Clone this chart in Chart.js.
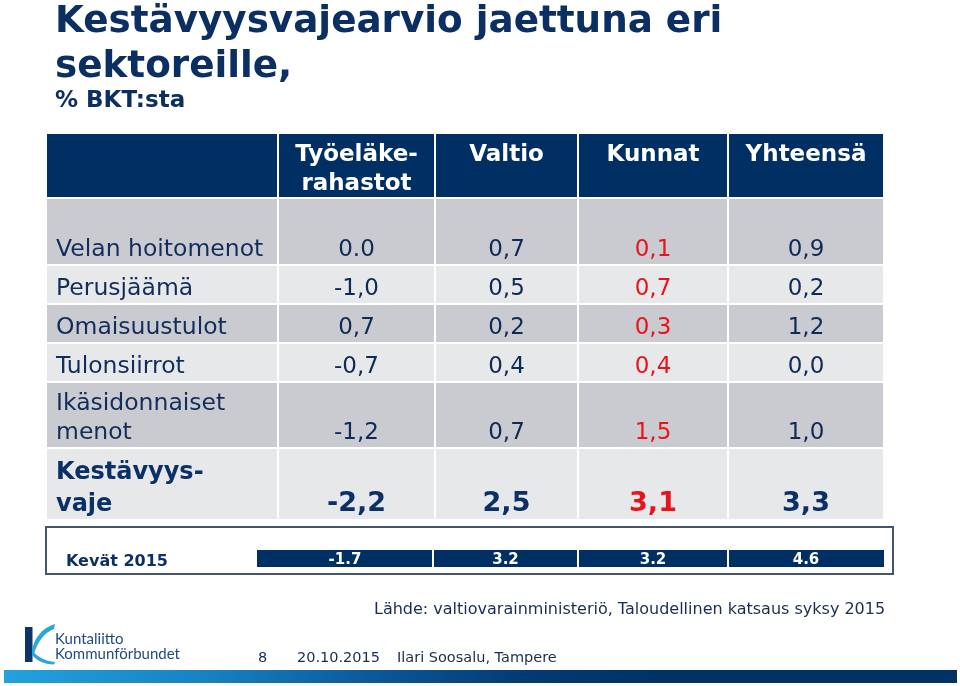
<!DOCTYPE html>
<html lang="fi">
<head>
<meta charset="utf-8">
<title>Kestävyysvajearvio jaettuna eri sektoreille</title>
<script src="https://cdn.jsdelivr.net/npm/chart.js@4.4.1/dist/chart.umd.min.js"></script>
<style>
  html, body { margin: 0; padding: 0; background: #ffffff; }
  body { width: 960px; height: 686px; position: relative; overflow: hidden; font-family: "DejaVu Sans", Verdana, sans-serif; }
  #chartBox { position: absolute; left: 0; top: 0; width: 960px; height: 686px; }
  .txt { position: absolute; white-space: nowrap; margin: 0; z-index: 2; }
  #title { left: 55px; top: -3px; font-size: 37.3px; line-height: 45px; font-weight: bold; color: #0b2f63; }
  #subtitle { left: 55px; top: 86px; font-size: 23px; line-height: 27px; font-weight: bold; color: #0b2f63; }
  #source { left: 374px; top: 599px; font-size: 16px; line-height: 20px; color: #1a2d4f; }
  .foot { top: 648px; font-size: 14.5px; line-height: 18px; color: #1a2d4f; }
  .logoTxt { left: 55px; font-family: Lato, "Open Sans", sans-serif; font-size: 15px; line-height: 16px; color: #1f4a82; }
  #logo { position: absolute; left: 20px; top: 620px; z-index: 2; }
  #bottomBar { position: absolute; left: 4px; top: 670px; width: 953px; height: 13px; z-index: 2;
    background: linear-gradient(to right, #23a2dc 0%, #1780c0 22%, #0b5595 40%, #033a70 55%, #003264 70%, #003264 100%); }
</style>
</head>
<body>
<div id="chartBox"><canvas id="chart"></canvas></div>

<div class="txt" id="title">Kestävyysvajearvio jaettuna eri<br>sektoreille,</div>
<div class="txt" id="subtitle">% BKT:sta</div>
<div class="txt" id="source">Lähde: valtiovarainministeriö, Taloudellinen katsaus syksy 2015</div>

<svg id="logo" width="40" height="46" viewBox="0 0 40 46">
  <rect x="5" y="7" width="7.5" height="35" fill="#0d3468"/>
  <path d="M12,31 C14,18 22,8 35,4 L34,9 C24,13 18,21 14,34 Z" fill="#2aa6dc"/>
  <path d="M12,30 C17,37 25,41 35,42 L34,44.5 C24,44.5 16,40 12,35 Z" fill="#2aa6dc"/>
</svg>
<div class="txt logoTxt" style="top:630px;">Kuntaliitto</div>
<div class="txt logoTxt" style="top:645px;">Kommunförbundet</div>

<div class="txt foot" style="left:258px;">8</div>
<div class="txt foot" style="left:297px;">20.10.2015</div>
<div class="txt foot" style="left:397px;">Ilari Soosalu, Tampere</div>
<div id="bottomBar"></div>

<script>
// ---------------- DATA ----------------
const columns = ['Työeläke-\nrahastot', 'Valtio', 'Kunnat', 'Yhteensä'];
const rowLabels = ['Velan hoitomenot', 'Perusjäämä', 'Omaisuustulot', 'Tulonsiirrot', 'Ikäsidonnaiset\nmenot', 'Kestävyys-\nvaje'];
const tyoelakerahastot = [0.0, -1.0, 0.7, -0.7, -1.2, -2.2];
const valtio           = [0.7,  0.5, 0.2,  0.4,  0.7,  2.5];
const kunnat           = [0.1,  0.7, 0.3,  0.4,  1.5,  3.1];
const yhteensa         = [0.9,  0.2, 1.2,  0.0,  1.0,  3.3];
const kevatLabel = 'Kevät 2015';
const kevat2015  = [-1.7, 3.2, 3.2, 4.6];

// ---------------- LAYOUT (table units) ----------------
const L = {
  colEdges: [0, 232, 389, 532, 682, 838],
  rowEdges: [0, 65, 132, 171, 210, 249, 315, 387],
  baselineOffset: 9,
  kevBox: [0, 847, 394, 441],
  kevBarEdges: [211, 387, 532, 682, 838],
  kevBar: [417, 434],
  kevBaseline: 431,
  labelInset: 10,
  headerFirstBaseline: 28,
  headerLineH: 29,
  lineH: 29,
  boldLineH: 32,
  boldRow: 5,
  redColumn: 2
};
const S = {
  font: '"DejaVu Sans", Verdana, sans-serif',
  header: '#003063',
  rowDark: '#cacbd0',
  rowLight: '#e7e8ea',
  label: '#132d5b',
  value: '#0e2a57',
  bold: '#0b3067',
  red: '#e8141c',
  kevBorder: '#46556b',
  white: '#ffffff'
};

const series = [tyoelakerahastot, valtio, kunnat, yhteensa];
// the slide prints the first cell with a point ("0.0"), all other table cells with a comma
function fmtTable(v, r, c) {
  const s = v.toFixed(1);
  return (r === 0 && c === 0) ? s : s.replace('.', ',');
}

const datasets = series.map((vals, c) => ({
  label: columns[c].replace('\n', ''),
  data: vals.map((v, r) => ({
    x: (L.colEdges[c + 1] + L.colEdges[c + 2]) / 2,
    y: L.rowEdges[r + 2] - L.baselineOffset,
    v: v
  })),
  pointRadius: 0,
  pointHoverRadius: 0,
  showLine: false
}));
datasets.push({
  label: kevatLabel,
  data: kevat2015.map((v, c) => ({
    x: (L.kevBarEdges[c] + L.kevBarEdges[c + 1]) / 2,
    y: L.kevBaseline,
    v: v
  })),
  pointRadius: 0,
  pointHoverRadius: 0,
  showLine: false
});

const tablePlugin = {
  id: 'tablePlugin',
  beforeDatasetsDraw(chart) {
    const { ctx, scales: { x, y } } = chart;
    const px = v => x.getPixelForValue(v);
    const py = v => y.getPixelForValue(v);
    ctx.save();
    const nRows = L.rowEdges.length - 1;
    const nCols = L.colEdges.length - 1;
    for (let r = 0; r < nRows; r++) {
      for (let c = 0; c < nCols; c++) {
        if (r === 0) {
          ctx.fillStyle = S.header;
        } else {
          ctx.fillStyle = (r % 2 === 1) ? S.rowDark : S.rowLight;
        }
        const x0 = px(L.colEdges[c]) + 1, x1 = px(L.colEdges[c + 1]) - 1;
        const y0 = py(L.rowEdges[r]) + 1, y1 = py(L.rowEdges[r + 1]) - 1;
        ctx.fillRect(x0, y0, x1 - x0, y1 - y0);
      }
    }
    // Kevät box
    ctx.strokeStyle = S.kevBorder;
    ctx.lineWidth = 2;
    ctx.strokeRect(px(L.kevBox[0]), py(L.kevBox[2]), px(L.kevBox[1]) - px(L.kevBox[0]), py(L.kevBox[3]) - py(L.kevBox[2]));
    ctx.fillStyle = S.header;
    for (let c = 0; c < L.kevBarEdges.length - 1; c++) {
      const x0 = px(L.kevBarEdges[c]) + (c === 0 ? 0 : 1);
      const x1 = px(L.kevBarEdges[c + 1]) - (c === L.kevBarEdges.length - 2 ? 0 : 1);
      ctx.fillRect(x0, py(L.kevBar[0]), x1 - x0, py(L.kevBar[1]) - py(L.kevBar[0]));
    }
    ctx.restore();
  },
  afterDatasetsDraw(chart) {
    const { ctx, scales: { x, y } } = chart;
    const px = v => x.getPixelForValue(v);
    const py = v => y.getPixelForValue(v);
    ctx.save();
    ctx.textBaseline = 'alphabetic';
    // header
    ctx.fillStyle = S.white;
    ctx.textAlign = 'center';
    ctx.font = 'bold 23px ' + S.font;
    columns.forEach((name, c) => {
      const cx = px((L.colEdges[c + 1] + L.colEdges[c + 2]) / 2);
      name.split('\n').forEach((line, i) => {
        ctx.fillText(line, cx, py(L.rowEdges[0] + L.headerFirstBaseline + i * L.headerLineH));
      });
    });
    // row labels
    ctx.textAlign = 'left';
    rowLabels.forEach((lab, r) => {
      const bold = r === L.boldRow;
      ctx.font = (bold ? 'bold 24px ' : '23.5px ') + S.font;
      ctx.fillStyle = bold ? S.bold : S.label;
      const lines = lab.split('\n');
      const lh = bold ? L.boldLineH : L.lineH;
      const base = py(L.rowEdges[r + 2] - L.baselineOffset);
      lines.forEach((line, i) => {
        ctx.fillText(line, px(L.colEdges[0] + L.labelInset), base - (lines.length - 1 - i) * lh);
      });
    });
    // values
    ctx.textAlign = 'center';
    for (let c = 0; c < series.length; c++) {
      const meta = chart.getDatasetMeta(c);
      meta.data.forEach((pt, r) => {
        const bold = r === L.boldRow;
        ctx.font = (bold ? 'bold 27px ' : '23px ') + S.font;
        ctx.fillStyle = c === L.redColumn ? S.red : (bold ? S.bold : S.value);
        ctx.fillText(fmtTable(chart.data.datasets[c].data[r].v, r, c), pt.x, pt.y);
      });
    }
    // Kevät row
    ctx.font = 'bold 16px ' + S.font;
    ctx.fillStyle = S.bold;
    ctx.textAlign = 'left';
    ctx.fillText(kevatLabel, px(L.kevBox[0] + 20), py(L.kevBaseline + 2));
    ctx.font = 'bold 15px ' + S.font;
    ctx.fillStyle = S.white;
    ctx.textAlign = 'center';
    const km = chart.getDatasetMeta(series.length);
    km.data.forEach((pt, c) => {
      ctx.fillText(kevat2015[c].toFixed(1), pt.x, pt.y);
    });
    ctx.restore();
  }
};

new Chart(document.getElementById('chart'), {
  type: 'scatter',
  data: { datasets: datasets },
  options: {
    responsive: true,
    maintainAspectRatio: false,
    animation: false,
    events: [],
    layout: { padding: { left: 46, right: 76, top: 133, bottom: 112 } },
    scales: {
      x: { type: 'linear', min: 0, max: 838, display: false },
      y: { type: 'linear', min: 0, max: 441, reverse: true, display: false }
    },
    plugins: {
      legend: { display: false },
      tooltip: { enabled: false },
      title: { display: false }
    }
  },
  plugins: [tablePlugin]
});
</script>
</body>
</html>
